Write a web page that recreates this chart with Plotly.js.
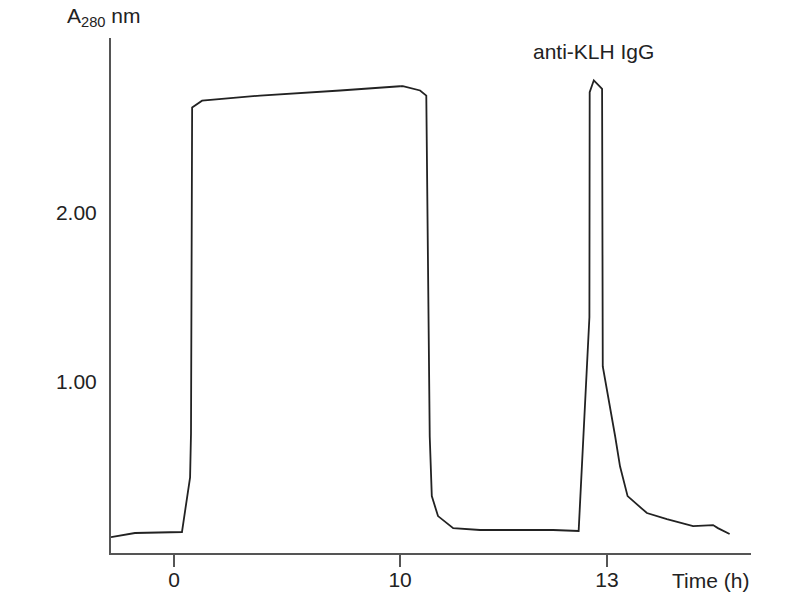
<!DOCTYPE html>
<html>
<head>
<meta charset="utf-8">
<script src="https://cdn.plot.ly/plotly-3.0.1.min.js"></script>
<style>
  html, body { margin: 0; padding: 0; background: #fff; }
  #chart { width: 800px; height: 600px; }
</style>
</head>
<body>
<div id="chart"></div>
<script>
// loading phase, 0-10 h (compressed scale)
const time1 = [-2.79, -1.73, 0.35, 0.71, 0.75, 0.80, 1.24, 3.81, 7.35, 10];
const abs1 = [0.082, 0.106, 0.112, 0.435, 0.694, 2.62, 2.66, 2.69, 2.72, 2.745];

// wash + elution, after 10 h (expanded scale)
const time2 = [10, 10.04, 10.29, 10.38, 10.43, 10.46, 10.55, 10.77, 11.16, 12.22,
  12.59, 12.746, 12.75, 12.81, 12.93, 12.94, 13.12, 13.19, 13.30, 13.58,
  13.87, 14.25, 14.54, 14.61, 14.78];
const abs2 = [2.745, 2.745, 2.72, 2.69, 0.676, 0.324, 0.206, 0.135, 0.124, 0.124,
  0.118, 1.38, 2.71, 2.78, 2.73, 1.09, 0.676, 0.50, 0.324, 0.224,
  0.188, 0.147, 0.153, 0.135, 0.10];

const yTicks = [1, 2];
const yTickText = ['1.00', '2.00'];
const xTicks1 = [0];
const xTicks2 = [10, 13];

const FONT = 'Liberation Sans, Arial, sans-serif';
const SIZE = 21;
const INK = '#222222';
const AXIS = '#555555';

const lineStyle = { color: INK, width: 1.8 };

const traces = [
  { x: time1, y: abs1, xaxis: 'x', yaxis: 'y', mode: 'lines', line: lineStyle, hoverinfo: 'x+y' },
  { x: time2, y: abs2, xaxis: 'x2', yaxis: 'y', mode: 'lines', line: lineStyle, hoverinfo: 'x+y' }
];

const xCommon = {
  showline: true,
  linecolor: AXIS,
  linewidth: 2,
  showgrid: false,
  zeroline: false,
  ticks: 'outside',
  ticklen: 12,
  tickwidth: 2,
  tickcolor: AXIS,
  ticklabelstandoff: -5,
  tickfont: { family: FONT, size: SIZE, color: INK },
  anchor: 'y'
};

const layout = {
  width: 800,
  height: 600,
  margin: { l: 111, r: 49, t: 38, b: 47 },
  paper_bgcolor: '#ffffff',
  plot_bgcolor: '#ffffff',
  showlegend: false,
  font: { family: FONT, size: SIZE, color: INK },
  xaxis: Object.assign({}, xCommon, {
    domain: [0, 0.4516],
    range: [-2.79, 10],
    tickmode: 'array',
    tickvals: xTicks1
  }),
  xaxis2: Object.assign({}, xCommon, {
    domain: [0.4516, 1],
    range: [9.999, 15.09],
    tickmode: 'array',
    tickvals: xTicks2
  }),
  yaxis: {
    range: [-0.012, 3.03],
    showline: true,
    linecolor: AXIS,
    linewidth: 2,
    showgrid: false,
    zeroline: false,
    ticks: '',
    tickmode: 'array',
    tickvals: yTicks,
    ticktext: yTickText,
    ticklabelstandoff: 8,
    tickfont: { family: FONT, size: SIZE, color: INK },
    anchor: 'x'
  },
  annotations: [
    {
      text: 'A<sub>280</sub> nm',
      xref: 'paper', yref: 'paper',
      x: -0.072, y: 1.04,
      xanchor: 'left', yanchor: 'middle',
      showarrow: false,
      font: { family: FONT, size: SIZE, color: INK }
    },
    {
      text: 'Time (h)',
      xref: 'x2', yref: 'paper',
      x: 15.09, y: 0,
      xanchor: 'right', yanchor: 'top',
      yshift: -14,
      showarrow: false,
      font: { family: FONT, size: SIZE, color: INK }
    },
    {
      text: 'anti-KLH IgG',
      xref: 'x2', yref: 'paper',
      x: 12.81, y: 0.973,
      xanchor: 'center', yanchor: 'middle',
      showarrow: false,
      font: { family: FONT, size: SIZE, color: INK }
    }
  ]
};

Plotly.newPlot('chart', traces, layout, { displayModeBar: false, staticPlot: true });
</script>
</body>
</html>
